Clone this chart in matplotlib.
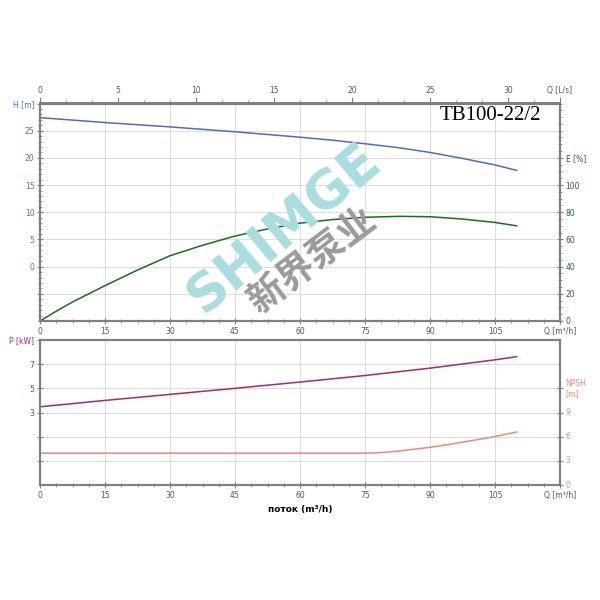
import numpy as np
import matplotlib.pyplot as plt
from matplotlib.ticker import MultipleLocator

# значения
q_head = [0, 15, 30, 45, 60, 67.5, 75, 82.5, 90, 97.5, 105, 110]
head = [27.4, 26.5, 25.7, 24.8, 23.8, 23.25, 22.6, 21.9, 21.0, 19.9, 18.7, 17.7]

q_eff = [0, 3.75, 7.5, 15, 22.5, 30, 37.5, 45, 52.5, 60, 67.5, 75, 83, 90, 97.5, 105, 110]
eff = [0, 7.2, 14, 26, 37.5, 48, 55.7, 62.5, 67.7, 72, 74.6, 76.3, 77, 76.7, 75.0, 72.5, 70]

q_pow = [0, 15, 30, 45, 60, 75, 90, 105, 110]
power = [3.47, 4.0, 4.5, 5.0, 5.52, 6.06, 6.67, 7.36, 7.62]

q_npsh = [0, 75, 78, 82.5, 86, 90, 94, 97.5, 101.5, 105, 110]
npsh = [3.95, 3.95, 4.0, 4.2, 4.42, 4.68, 5.0, 5.32, 5.68, 6.02, 6.58]

q_ticks = [0, 15, 30, 45, 60, 75, 90, 105, 120]
q_labels = ['0', '15', '30', '45', '60', '75', '90', '105', 'Q [m³/h]']
ls_ticks = [0, 5, 10, 15, 20, 25, 30, 120 / 3.6]
ls_labels = ['0', '5', '10', '15', '20', '25', '30', 'Q [L/s]']
h_ticks = [-5, 0, 5, 10, 15, 20, 25, 30]
h_labels = ['', '0', '5', '10', '15', '20', '25', 'H [m]']
e_ticks = [0, 20, 40, 60, 80, 100, 120]
e_labels = ['0', '20', '40', '60', '80', '100', 'E [%]']
p_ticks = [-1, 1, 3, 5, 7, 9]
p_labels = ['', '', '3', '5', '7', 'P [kW]']
n_ticks = [0, 3, 6, 9, 12]
n_labels = ['0', '3', '6', '9', 'NPSH\n[m]']

c_head, c_eff = '#4a6fbf', '#187018'
c_pow, c_npsh = '#a0287e', '#f08878'
spine_c = '#808080'
grid_c = '#dddddd'
fs = 5.5

fig = plt.figure(figsize=(6, 6), dpi=100)


def style(ax):
    for s in ax.spines.values():
        s.set_color(spine_c)
        s.set_linewidth(1.5)
    ax.tick_params(which='both', color=spine_c, labelsize=fs, direction='inout', pad=2)
    ax.tick_params(which='major', length=4)
    ax.tick_params(which='minor', length=2.5)


# верхний график: напор и КПД
ax1 = fig.add_axes([40 / 600, 1 - 321 / 600, 520 / 600, 217.5 / 600])
ax1.plot(q_head, head, color=c_head, lw=1.1)
ax1.set_xlim(0, 120)
ax1.set_ylim(-10, 30)
ax1.set_xticks(q_ticks)
ax1.set_xticklabels(q_labels, color='#555555')
ax1.xaxis.set_minor_locator(MultipleLocator(3.75))
ax1.set_yticks(h_ticks)
ax1.set_yticklabels(h_labels, color=c_head)
ax1.yaxis.set_minor_locator(MultipleLocator(1))
ax1.grid(True, which='major', color=grid_c, lw=0.8)
style(ax1)

ax1e = ax1.twinx()
ax1e.plot(q_eff, eff, color=c_eff, lw=1.1)
ax1e.set_ylim(0, 160)
ax1e.set_yticks(e_ticks)
ax1e.set_yticklabels(e_labels, color=c_eff)
ax1e.yaxis.set_minor_locator(MultipleLocator(5))
style(ax1e)

top = ax1.secondary_xaxis('top', functions=(lambda q: q / 3.6, lambda l: l * 3.6))
top.set_xticks(ls_ticks)
top.set_xticklabels(ls_labels, color='#555555')
top.xaxis.set_minor_locator(MultipleLocator(5 / 3))
top.tick_params(which='both', color=spine_c, labelsize=fs, direction='out', pad=2)
top.tick_params(which='major', length=4)
top.tick_params(which='minor', length=2)
top.spines['top'].set_color(spine_c)
top.spines['top'].set_linewidth(1.5)

# нижний график: мощность и NPSH
ax2 = fig.add_axes([40 / 600, 1 - 485 / 600, 520 / 600, 145 / 600])
ax2.plot(q_pow, power, color=c_pow, lw=1.1)
ax2.set_xlim(0, 120)
ax2.set_ylim(-3, 9)
ax2.set_xticks(q_ticks)
ax2.set_xticklabels(q_labels, color='#555555')
ax2.xaxis.set_minor_locator(MultipleLocator(3.75))
ax2.set_yticks(p_ticks)
ax2.set_yticklabels(p_labels, color=c_pow)
ax2.grid(True, which='major', color=grid_c, lw=0.8)
ax2.set_xlabel('поток (m³/h)', fontsize=6.5, fontweight='bold', labelpad=4)
style(ax2)
ax2.tick_params(axis='y', which='minor', length=0)

ax2n = ax2.twinx()
ax2n.plot(q_npsh, npsh, color=c_npsh, lw=1.1)
ax2n.set_ylim(0, 18)
ax2n.set_yticks(n_ticks)
ax2n.set_yticklabels(n_labels, color=c_npsh)
style(ax2n)
for lab in ax2n.get_yticklabels():
    lab.set_verticalalignment('center')
    lab.set_multialignment('left')

# название и водяной знак
fig.text(541 / 600, 1 - 115 / 600, 'TB100-22/2', family='Liberation Serif',
         fontsize=15, ha='right', va='center')
fig.text(283 / 600, 1 - 229 / 600, 'SHIMGE', rotation=40, ha='center', va='center',
         fontsize=38, fontweight='bold', color='#aadddd', family='DejaVu Sans')
fig.text(312 / 600, 1 - 261 / 600, '新界泵业', rotation=37, ha='center', va='center',
         fontsize=27, fontweight='bold', color='#9a9a9a', family='Noto Sans CJK SC')

plt.savefig('out.png', dpi=100)
